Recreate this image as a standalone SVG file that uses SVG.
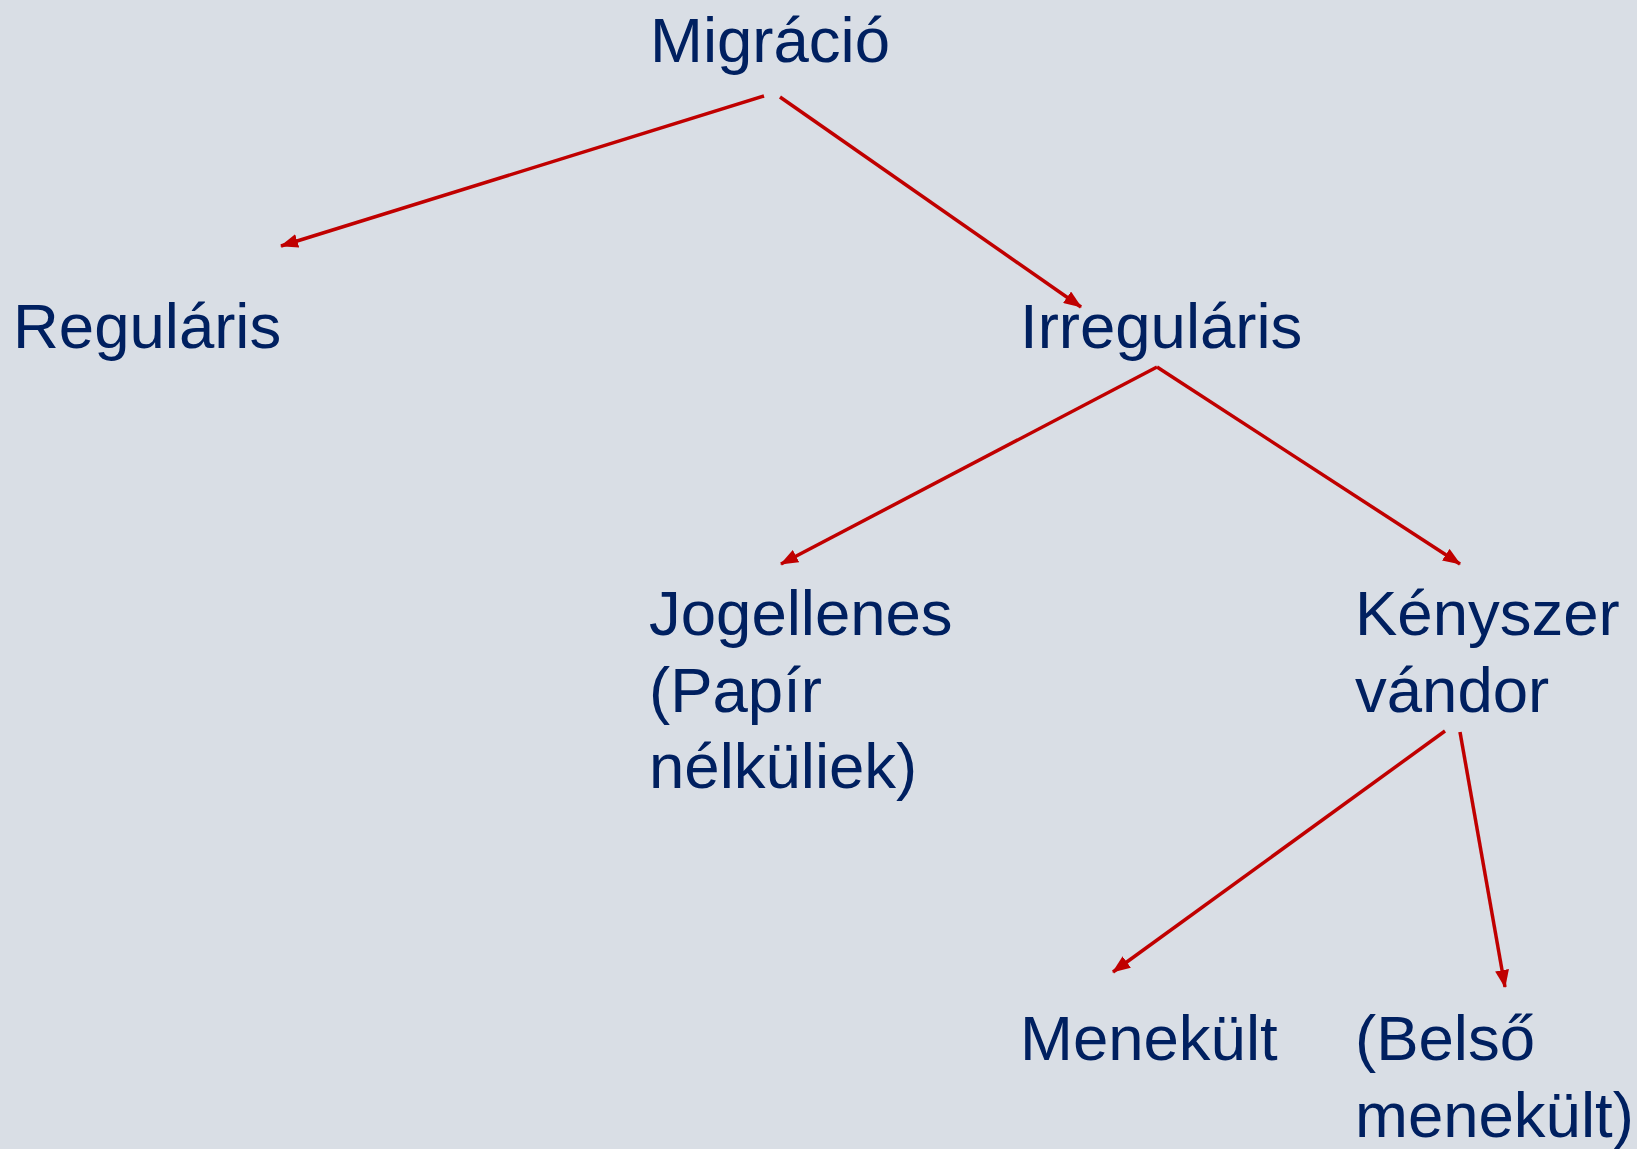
<svg xmlns="http://www.w3.org/2000/svg" width="1637" height="1149" viewBox="0 0 1637 1149">
<defs>
<style>
.t{font-family:"Liberation Sans",Arial,sans-serif;font-size:63.5px;fill:#002060}
.c{stroke:#C00000;stroke-width:3.5;fill:none;marker-end:url(#ah)}
</style>
<marker id="ah" markerUnits="userSpaceOnUse" markerWidth="18" markerHeight="14" refX="17" refY="7" orient="auto">
<path d="M0,0 L18,7 L0,14 z" fill="#C00000"/>
</marker>
</defs>
<rect width="1637" height="1149" fill="#D9DEE5"/>
<g id="connectors">
<line class="c" x1="764" y1="96" x2="281" y2="246"/>
<line class="c" x1="780" y1="97" x2="1081" y2="307"/>
<line class="c" x1="1157" y1="367" x2="781" y2="564"/>
<line class="c" x1="1157" y1="367" x2="1460" y2="564"/>
<line class="c" x1="1445" y1="731" x2="1113" y2="972"/>
<line class="c" x1="1460" y1="732" x2="1505" y2="987"/>
</g>
<g id="n-migracio"><text class="t" x="650" y="62">Migráció</text></g>
<g id="n-regularis"><text class="t" x="13" y="348">Reguláris</text></g>
<g id="n-irregularis"><text class="t" x="1020" y="348">Irreguláris</text></g>
<g id="n-jogellenes"><text class="t" x="649" y="635">Jogellenes</text><text class="t" x="649" y="712">(Papír</text><text class="t" x="649" y="788">nélküliek)</text></g>
<g id="n-kenyszer"><text class="t" x="1355" y="635">Kényszer</text><text class="t" x="1355" y="712">vándor</text></g>
<g id="n-menekult"><text class="t" x="1020" y="1060">Menekült</text></g>
<g id="n-belso"><text class="t" x="1355" y="1060">(Belső</text><text class="t" x="1355" y="1137">menekült)</text></g>
</svg>
